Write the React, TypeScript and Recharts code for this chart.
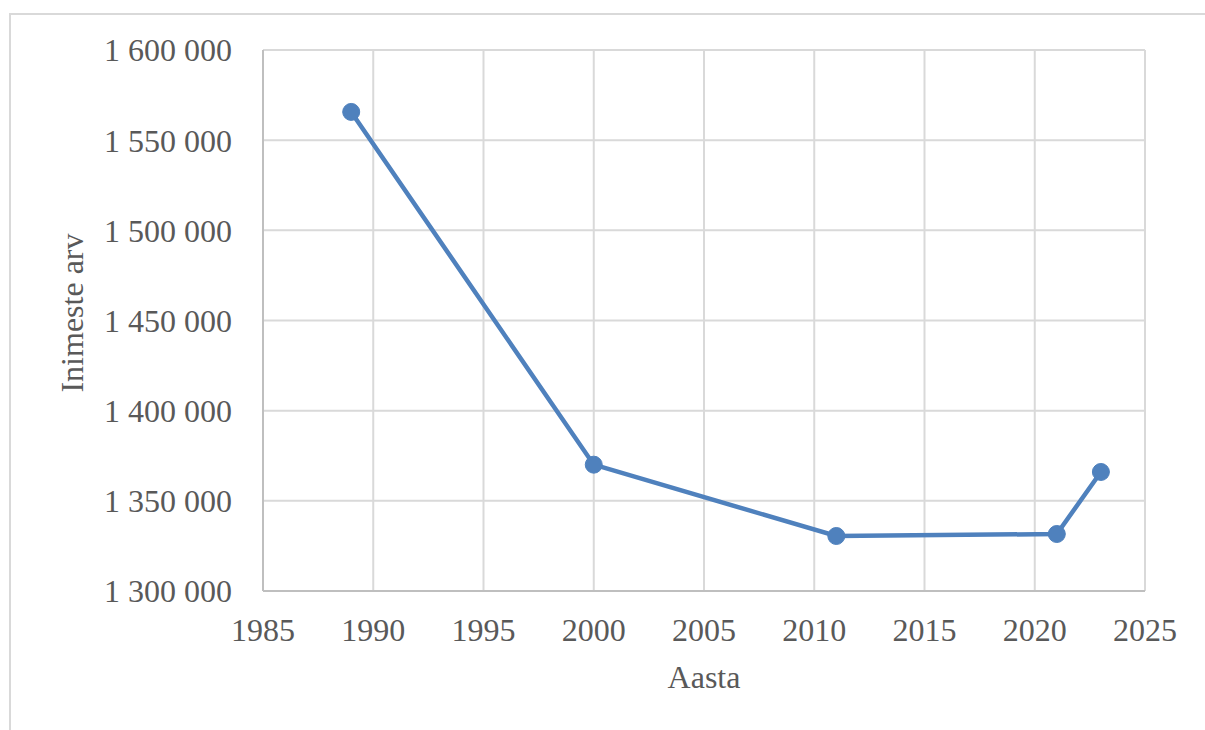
import { LineChart, Line, XAxis, YAxis, CartesianGrid } from 'recharts'

const years = [1989, 2000, 2011, 2021, 2023]
const population = [1565662, 1370052, 1330500, 1331600, 1366000]
const xTicks = [1985, 1990, 1995, 2000, 2005, 2010, 2015, 2020, 2025]
const yTicks = [1300000, 1350000, 1400000, 1450000, 1500000, 1550000, 1600000]

const data = years.map((year, i) => ({ year, value: population[i] }))

const FONT = "'Liberation Serif', 'Times New Roman', Tinos, 'DejaVu Serif', serif"
const TEXT = '#595959'

const fmt = (v: number) => v.toString().replace(/\B(?=(\d{3})+(?!\d))/g, ' ')

export default function App() {
  return (
    <div
      style={{
        position: 'absolute',
        left: 0,
        top: 0,
        width: 1205,
        height: 730,
        background: '#fff',
        fontFamily: FONT,
      }}
    >
      <div
        style={{
          position: 'absolute',
          left: 9,
          top: 13,
          width: 1205,
          height: 730,
          borderLeft: '2px solid #d9d9d9',
          borderTop: '2px solid #d9d9d9',
        }}
      />
      <LineChart
        width={1205}
        height={730}
        data={data}
        margin={{ top: 50, right: 60, left: 0, bottom: 29 }}
        style={{ position: 'absolute', left: 0, top: 0, fontFamily: FONT }}
      >
        <CartesianGrid stroke="#d9d9d9" strokeWidth={2} />
        <XAxis
          dataKey="year"
          type="number"
          domain={[1985, 2025]}
          ticks={xTicks}
          height={110}
          tickLine={false}
          tickMargin={21}
          axisLine={{ stroke: '#bfbfbf', strokeWidth: 2 }}
          tick={{ fill: TEXT, fontSize: 32, style: { fontFamily: FONT } }}
        />
        <YAxis
          type="number"
          domain={[1300000, 1600000]}
          ticks={yTicks}
          width={263}
          tickLine={false}
          tickMargin={25}
          tickFormatter={fmt}
          axisLine={{ stroke: '#bfbfbf', strokeWidth: 2 }}
          tick={{ fill: TEXT, fontSize: 32, style: { fontFamily: FONT } }}
        />
        <Line
          dataKey="value"
          stroke="#4f81bd"
          strokeWidth={4.5}
          dot={{ r: 8.5, fill: '#4f81bd', stroke: '#4f81bd', strokeWidth: 1 }}
          activeDot={false}
          isAnimationActive={false}
        />
        <text x={704} y={688} textAnchor="middle" fill={TEXT} fontSize={32} style={{ fontFamily: FONT }}>
          Aasta
        </text>
        <text
          x={83}
          y={313}
          textAnchor="middle"
          fill={TEXT}
          fontSize={32}
          style={{ fontFamily: FONT }}
          transform="rotate(-90 83 313)"
        >
          Inimeste arv
        </text>
      </LineChart>
    </div>
  )
}
